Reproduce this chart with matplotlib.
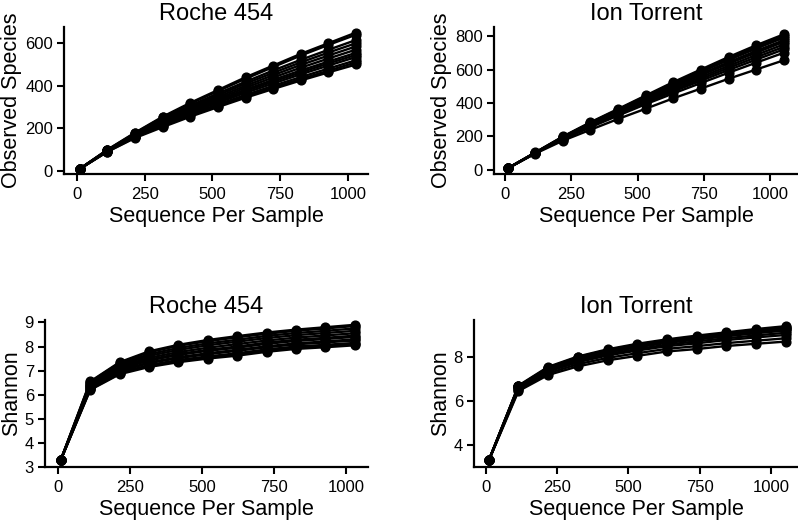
import matplotlib
matplotlib.use('Agg')
import matplotlib.pyplot as plt

plt.rcParams['font.family'] = ['Liberation Sans', 'DejaVu Sans']

# sequencing depths (x) for each platform
roche_depth = [10, 112, 214, 316, 418, 520, 622, 724, 826, 928, 1030]
ion_depth = [10, 114, 218, 322, 427, 531, 635, 739, 844, 948, 1052]

# observed species per sample, Roche 454
roche_observed = [
    [10, 100, 180, 255, 320, 380, 440, 495, 550, 600, 650],
    [10, 99, 178, 252, 316, 375, 433, 488, 542, 592, 640],
    [10, 98, 175, 245, 307, 364, 419, 472, 522, 569, 615],
    [10, 97, 172, 240, 300, 356, 410, 461, 510, 556, 600],
    [10, 96, 170, 236, 294, 348, 400, 450, 498, 542, 585],
    [10, 95, 168, 231, 288, 340, 391, 439, 485, 528, 570],
    [10, 95, 166, 227, 282, 333, 382, 428, 472, 514, 555],
    [10, 94, 164, 224, 278, 327, 375, 420, 463, 505, 545],
    [10, 93, 162, 220, 273, 321, 367, 411, 454, 495, 535],
    [10, 92, 160, 215, 266, 313, 357, 400, 441, 481, 520],
    [10, 91, 158, 211, 261, 307, 350, 392, 432, 471, 510],
    [10, 90, 155, 206, 255, 300, 344, 385, 425, 463, 500],
]

# observed species per sample, Ion Torrent
ion_observed = [
    [10, 105, 200, 285, 365, 445, 525, 600, 675, 745, 810],
    [10, 104, 198, 282, 361, 440, 518, 592, 666, 735, 800],
    [10, 104, 197, 280, 358, 435, 512, 585, 657, 725, 790],
    [10, 103, 195, 276, 353, 428, 503, 574, 644, 711, 775],
    [10, 103, 193, 273, 349, 423, 496, 566, 635, 701, 765],
    [10, 102, 191, 270, 344, 416, 487, 555, 622, 687, 750],
    [10, 102, 189, 266, 339, 409, 478, 544, 610, 673, 735],
    [10, 101, 186, 262, 333, 402, 469, 533, 597, 659, 720],
    [10, 100, 182, 255, 325, 393, 457, 519, 581, 641, 700],
    [10, 98, 175, 240, 305, 366, 428, 486, 545, 600, 655],
]

# shannon index per sample, Roche 454
roche_shannon = [
    [3.3, 6.55, 7.35, 7.80, 8.07, 8.27, 8.43, 8.58, 8.70, 8.80, 8.90],
    [3.3, 6.53, 7.32, 7.76, 8.03, 8.22, 8.38, 8.53, 8.65, 8.75, 8.85],
    [3.3, 6.49, 7.26, 7.68, 7.94, 8.13, 8.28, 8.44, 8.56, 8.65, 8.75],
    [3.3, 6.45, 7.20, 7.61, 7.86, 8.05, 8.20, 8.35, 8.47, 8.56, 8.65],
    [3.3, 6.41, 7.15, 7.53, 7.77, 7.95, 8.10, 8.25, 8.37, 8.46, 8.55],
    [3.3, 6.37, 7.09, 7.46, 7.69, 7.86, 8.00, 8.16, 8.28, 8.36, 8.45],
    [3.3, 6.35, 7.06, 7.42, 7.65, 7.82, 7.95, 8.11, 8.23, 8.31, 8.40],
    [3.3, 6.31, 7.00, 7.34, 7.56, 7.72, 7.86, 8.01, 8.13, 8.21, 8.30],
    [3.3, 6.29, 6.97, 7.31, 7.52, 7.68, 7.82, 7.97, 8.09, 8.17, 8.25],
    [3.3, 6.25, 6.91, 7.23, 7.44, 7.59, 7.72, 7.88, 8.00, 8.07, 8.15],
    [3.3, 6.22, 6.88, 7.19, 7.39, 7.55, 7.67, 7.83, 7.95, 8.02, 8.10],
    [3.3, 6.20, 6.85, 7.15, 7.35, 7.50, 7.62, 7.78, 7.90, 7.97, 8.05],
]

# shannon index per sample, Ion Torrent
ion_shannon = [
    [3.3, 6.70, 7.55, 8.02, 8.35, 8.60, 8.80, 8.97, 9.12, 9.27, 9.40],
    [3.3, 6.68, 7.52, 7.99, 8.32, 8.56, 8.76, 8.93, 9.08, 9.22, 9.35],
    [3.3, 6.66, 7.50, 7.96, 8.28, 8.52, 8.72, 8.88, 9.03, 9.18, 9.30],
    [3.3, 6.66, 7.49, 7.95, 8.27, 8.51, 8.71, 8.87, 9.02, 9.16, 9.28],
    [3.3, 6.65, 7.47, 7.93, 8.25, 8.48, 8.68, 8.84, 8.99, 9.13, 9.25],
    [3.3, 6.63, 7.44, 7.89, 8.21, 8.44, 8.64, 8.79, 8.94, 9.08, 9.20],
    [3.3, 6.59, 7.39, 7.83, 8.14, 8.36, 8.56, 8.71, 8.85, 8.98, 9.10],
    [3.3, 6.56, 7.34, 7.76, 8.07, 8.29, 8.49, 8.62, 8.77, 8.89, 9.00],
    [3.3, 6.50, 7.26, 7.67, 7.96, 8.17, 8.37, 8.49, 8.63, 8.74, 8.85],
    [3.3, 6.45, 7.18, 7.57, 7.85, 8.05, 8.25, 8.36, 8.50, 8.60, 8.70],
]

W, H = 798, 521
fig = plt.figure(figsize=(W / 100, H / 100), dpi=100)


def make_axes(left, right, top, bottom):
    return fig.add_axes([left / W, 1 - bottom / H, (right - left) / W, (bottom - top) / H])


def draw_panel(ax, depth, series, title, ylabel, xlim, ylim, yticks):
    for ys in series:
        ax.plot(depth, ys, color='black', lw=1.7, marker='o', ms=6.3,
                markeredgecolor='black', clip_on=False)
    ax.set_xlim(*xlim)
    ax.set_ylim(*ylim)
    ax.set_xticks([0, 250, 500, 750, 1000])
    ax.set_yticks(yticks)
    ax.set_title(title, fontsize=17, pad=5)
    ax.set_xlabel('Sequence Per Sample', fontsize=15.5, labelpad=3)
    ax.set_ylabel(ylabel, fontsize=15.5, labelpad=2)
    for side in ['top', 'right']:
        ax.spines[side].set_visible(False)
    for side in ['left', 'bottom']:
        ax.spines[side].set_linewidth(1.6)
    ax.tick_params(labelsize=12, width=1.5, length=5)
    ax.tick_params(axis='x', pad=4.5)
    ax.tick_params(axis='y', pad=3)


ax1 = make_axes(64, 368, 27, 174)
draw_panel(ax1, roche_depth, roche_observed, 'Roche 454', 'Observed Species',
           (-48, 1074), (-14, 676), [0, 200, 400, 600])

ax2 = make_axes(494, 798, 27, 174)
draw_panel(ax2, ion_depth, ion_observed, 'Ion Torrent', 'Observed Species',
           (-42, 1106), (-24, 854), [0, 200, 400, 600, 800])

ax3 = make_axes(45, 368, 320, 467)
draw_panel(ax3, roche_depth, roche_shannon, 'Roche 454', 'Shannon',
           (-45, 1076), (3, 9.1), [3, 4, 5, 6, 7, 8, 9])

ax4 = make_axes(474, 798, 320, 467)
draw_panel(ax4, ion_depth, ion_shannon, 'Ion Torrent', 'Shannon',
           (-42, 1095), (3, 9.68), [4, 6, 8])

fig.savefig('out.png', dpi=100)
